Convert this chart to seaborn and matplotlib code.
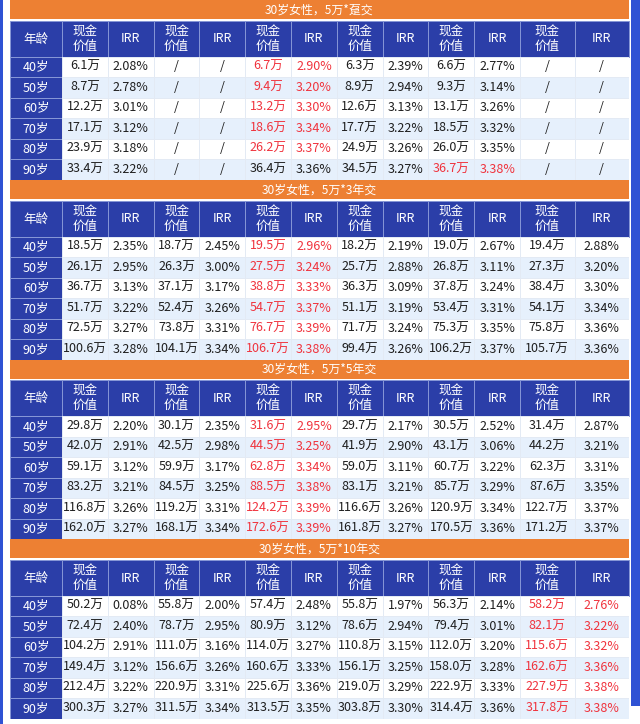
import numpy as np
import pandas as pd
import seaborn as sns
import matplotlib
matplotlib.use("Agg")
import matplotlib.pyplot as plt
from matplotlib.colors import ListedColormap
from matplotlib.patches import Rectangle

# ---------------- data ----------------
ages = ["40岁", "50岁", "60岁", "70岁", "80岁", "90岁"]
titles = ["30岁女性，5万*趸交", "30岁女性，5万*3年交",
          "30岁女性，5万*5年交", "30岁女性，5万*10年交"]
age_header = "年龄"
col_headers = ["现金\n价值", "IRR"]

# cash values (万) and IRR (%) for 6 products; None = "/"
dun_cash = [[6.1, 8.7, 12.2, 17.1, 23.9, 33.4], None,
            [6.7, 9.4, 13.2, 18.6, 26.2, 36.4], [6.3, 8.9, 12.6, 17.7, 24.9, 34.5],
            [6.6, 9.3, 13.1, 18.5, 26.0, 36.7], None]
dun_irr = [[2.08, 2.78, 3.01, 3.12, 3.18, 3.22], None,
           [2.90, 3.20, 3.30, 3.34, 3.37, 3.36], [2.39, 2.94, 3.13, 3.22, 3.26, 3.27],
           [2.77, 3.14, 3.26, 3.32, 3.35, 3.38], None]

y3_cash = [[18.5, 26.1, 36.7, 51.7, 72.5, 100.6], [18.7, 26.3, 37.1, 52.4, 73.8, 104.1],
           [19.5, 27.5, 38.8, 54.7, 76.7, 106.7], [18.2, 25.7, 36.3, 51.1, 71.7, 99.4],
           [19.0, 26.8, 37.8, 53.4, 75.3, 106.2], [19.4, 27.3, 38.4, 54.1, 75.8, 105.7]]
y3_irr = [[2.35, 2.95, 3.13, 3.22, 3.27, 3.28], [2.45, 3.00, 3.17, 3.26, 3.31, 3.34],
          [2.96, 3.24, 3.33, 3.37, 3.39, 3.38], [2.19, 2.88, 3.09, 3.19, 3.24, 3.26],
          [2.67, 3.11, 3.24, 3.31, 3.35, 3.37], [2.88, 3.20, 3.30, 3.34, 3.36, 3.36]]

y5_cash = [[29.8, 42.0, 59.1, 83.2, 116.8, 162.0], [30.1, 42.5, 59.9, 84.5, 119.2, 168.1],
           [31.6, 44.5, 62.8, 88.5, 124.2, 172.6], [29.7, 41.9, 59.0, 83.1, 116.6, 161.8],
           [30.5, 43.1, 60.7, 85.7, 120.9, 170.5], [31.4, 44.2, 62.3, 87.6, 122.7, 171.2]]
y5_irr = [[2.20, 2.91, 3.12, 3.21, 3.26, 3.27], [2.35, 2.98, 3.17, 3.25, 3.31, 3.34],
          [2.95, 3.25, 3.34, 3.38, 3.39, 3.39], [2.17, 2.90, 3.11, 3.21, 3.26, 3.27],
          [2.52, 3.06, 3.22, 3.29, 3.34, 3.36], [2.87, 3.21, 3.31, 3.35, 3.37, 3.37]]

y10_cash = [[50.2, 72.4, 104.2, 149.4, 212.4, 300.3], [55.8, 78.7, 111.0, 156.6, 220.9, 311.5],
            [57.4, 80.9, 114.0, 160.6, 225.6, 313.5], [55.8, 78.6, 110.8, 156.1, 219.0, 303.8],
            [56.3, 79.4, 112.0, 158.0, 222.9, 314.4], [58.2, 82.1, 115.6, 162.6, 227.9, 317.8]]
y10_irr = [[0.08, 2.40, 2.91, 3.12, 3.22, 3.27], [2.00, 2.95, 3.16, 3.26, 3.31, 3.34],
           [2.48, 3.12, 3.27, 3.33, 3.36, 3.35], [1.97, 2.94, 3.15, 3.25, 3.29, 3.30],
           [2.14, 3.01, 3.20, 3.28, 3.33, 3.36], [2.76, 3.22, 3.32, 3.36, 3.38, 3.38]]

sections_cash = [dun_cash, y3_cash, y5_cash, y10_cash]
sections_irr = [dun_irr, y3_irr, y5_irr, y10_irr]

# highlighted (row, product) cells per section
highlights = [
    [(0, 2), (1, 2), (2, 2), (3, 2), (4, 2), (5, 4)],
    [(r, 2) for r in range(6)],
    [(r, 2) for r in range(6)],
    [(r, 5) for r in range(6)],
]

# ---------------- style ----------------
sns.set_theme(style="white")
plt.rcParams["font.family"] = ["Noto Sans CJK SC", "DejaVu Sans"]

ORANGE = "#ED8033"
BLUE = "#2B3EA8"
HEAD_LINE = "#8696D6"
ROW_BLUE = "#E6F0FC"
GRID = "#E3EAF4"
RED = "#F0333D"
TEXT = "#1E1E1E"
FRAME = "#2F52D4"

W, H = 640, 724
fig = plt.figure(figsize=(W / 100, H / 100), dpi=100)
fig.patch.set_facecolor("white")
ax = fig.add_axes([0, 0, 1, 1])
ax.set_xlim(0, W)
ax.set_ylim(H, 0)
ax.axis("off")

LEFT, AGE_W, MID_W, RIGHT_W = 10, 52, 45.8, 54.5
x_edges = [LEFT, LEFT + AGE_W]
for k in range(10):
    x_edges.append(x_edges[-1] + MID_W)
for k in range(2):
    x_edges.append(x_edges[-1] + RIGHT_W)
TABLE_R = x_edges[-1]

sec_tops = [0, 180, 359.5, 539]
TITLE_H, GAP, HEAD_H, ROW_H = 19, 1.5, 36, 20.5

# frame strips
ax.add_patch(Rectangle((0, 0), 3, H, color=FRAME, lw=0, zorder=0))
ax.add_patch(Rectangle((630.5, 0), 9.5, 706, color=FRAME, lw=0, zorder=0))


def sub_axes(x0, y0, w, h):
    return fig.add_axes([x0 / W, 1 - (y0 + h) / H, w / W, h / H])


def fmt_cash(v):
    return f"{v:.1f}万"


def fmt_irr(v):
    return f"{v:.2f}%"


FS_TITLE = 8.6
FS_HEAD = 9.0
FS_DATA = 9.0
for s in range(4):
    top = sec_tops[s]
    # title bar
    ax.add_patch(Rectangle((LEFT, top), TABLE_R - LEFT, TITLE_H, color=ORANGE, lw=0))
    ax.text((LEFT + TABLE_R) / 2, top + TITLE_H / 2 + 0.5, titles[s], color="white",
            fontsize=FS_TITLE, ha="center", va="center")
    # header row
    hy = top + TITLE_H + GAP
    for c in range(13):
        x0, x1 = x_edges[c], x_edges[c + 1]
        ax.add_patch(Rectangle((x0, hy), x1 - x0, HEAD_H, facecolor=BLUE,
                               edgecolor=HEAD_LINE, lw=0.7))
        label = age_header if c == 0 else col_headers[(c - 1) % 2]
        ax.text((x0 + x1) / 2, hy + HEAD_H / 2 + 0.5, label, color="white",
                fontsize=FS_HEAD, ha="center", va="center", linespacing=1.15)

    # data table
    cash = sections_cash[s]
    irr = sections_irr[s]
    labels = []
    for r in range(6):
        row = []
        for p in range(6):
            if cash[p] is None:
                row += ["/", "/"]
            else:
                row += [fmt_cash(cash[p][r]), fmt_irr(irr[p][r])]
        labels.append(row)
    labels = pd.DataFrame(labels, index=ages)
    red = np.zeros((6, 12), dtype=bool)
    for (r, p) in highlights[s]:
        red[r, 2 * p] = red[r, 2 * p + 1] = True

    dy = hy + HEAD_H
    dh = 6 * ROW_H
    shade = pd.DataFrame([[r % 2] * 12 for r in range(6)], index=ages)

    # age column
    a_ax = sub_axes(x_edges[0], dy, AGE_W, dh)
    sns.heatmap(pd.DataFrame({"age": [1] * 6}, index=ages), ax=a_ax,
                cmap=ListedColormap([BLUE]), cbar=False, linewidths=0.7,
                linecolor=HEAD_LINE, xticklabels=False, yticklabels=False)
    for r in range(6):
        a_ax.text(0.5, r + 0.5, ages[r], color="white", fontsize=FS_HEAD,
                  ha="center", va="center")

    # value columns: 10 narrow + 2 wide
    blocks = [(0, 10, x_edges[1], MID_W * 10), (10, 12, x_edges[11], RIGHT_W * 2)]
    for c0, c1, bx, bw in blocks:
        b_ax = sub_axes(bx, dy, bw, dh)
        sns.heatmap(shade.iloc[:, c0:c1], ax=b_ax, vmin=0, vmax=1,
                    cmap=ListedColormap(["#FFFFFF", ROW_BLUE]), cbar=False,
                    linewidths=0.5, linecolor=GRID,
                    xticklabels=False, yticklabels=False)
        for r in range(6):
            for j, c in enumerate(range(c0, c1)):
                b_ax.text(j + 0.5, r + 0.5, labels.iloc[r, c],
                          color=RED if red[r, c] else TEXT, fontsize=FS_DATA,
                          ha="center", va="center")

fig.savefig("out.png", dpi=100, facecolor="white")
